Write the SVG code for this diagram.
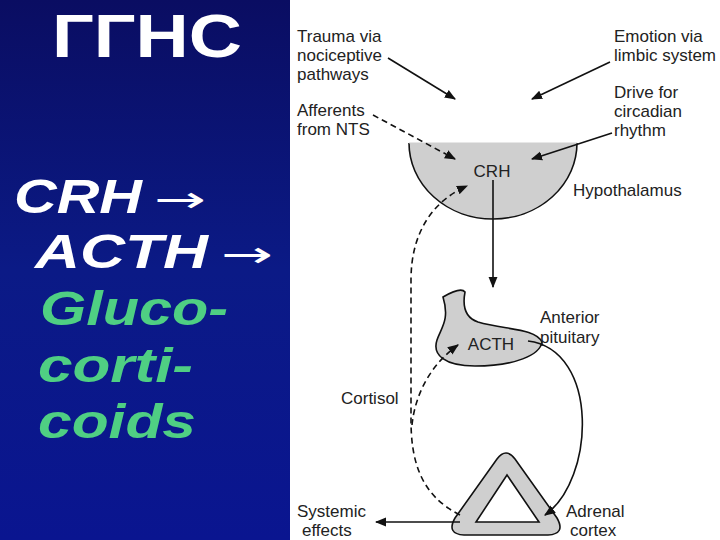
<svg xmlns="http://www.w3.org/2000/svg" width="720" height="540" viewBox="0 0 720 540">
<defs>
<linearGradient id="bg" x1="0" y1="0" x2="0" y2="1"><stop offset="0" stop-color="#0a0d62"/><stop offset="0.5" stop-color="#0b1a86"/><stop offset="1" stop-color="#0a1590"/></linearGradient>
<marker id="ah" viewBox="0 0 10 10" refX="9" refY="5" markerWidth="7" markerHeight="7" orient="auto-start-reverse"><path d="M0,1 L10,5 L0,9 Z" fill="#111"/></marker>
<style>
.t{font-family:"Liberation Sans",Arial,sans-serif;font-size:17px;fill:#222}
.big{font-family:"Liberation Sans",Arial,sans-serif;font-weight:bold;font-style:italic;font-size:48px}
.arr{font-family:"DejaVu Sans",sans-serif;font-size:36px;fill:#fff}
.ln{stroke:#111;stroke-width:1.6;fill:none}
.d{stroke-dasharray:6 4}
.g{fill:#cfcfcf;stroke:#111;stroke-width:1.6}
</style>
</defs>
<rect width="720" height="540" fill="url(#bg)"/>
<rect x="290" y="0" width="430" height="540" fill="#fff"/>
<g id="left-text">
<text x="52" y="57" font-family="Liberation Sans,Arial,sans-serif" font-weight="bold" font-size="62" fill="#fff" textLength="190" lengthAdjust="spacingAndGlyphs">ГГНС</text>
<text x="14" y="213" class="big" fill="#fff" textLength="128" lengthAdjust="spacingAndGlyphs">CRH</text>
<text x="154" y="212" class="arr" textLength="52" lengthAdjust="spacingAndGlyphs">→</text>
<text x="35" y="268" class="big" fill="#fff" textLength="173" lengthAdjust="spacingAndGlyphs">ACTH</text>
<text x="221" y="267" class="arr" textLength="52" lengthAdjust="spacingAndGlyphs">→</text>
<text x="40" y="325" class="big" fill="#4fcf83" textLength="188" lengthAdjust="spacingAndGlyphs">Gluco-</text>
<text x="38" y="382" class="big" fill="#4fcf83" textLength="155" lengthAdjust="spacingAndGlyphs">corti-</text>
<text x="38" y="438" class="big" fill="#4fcf83" textLength="158" lengthAdjust="spacingAndGlyphs">coids</text>
</g>
<g id="hypothalamus">
<path d="M409,143 A84,76 0 0 0 577,143" class="g"/>
<path d="M409,143 L577,143" stroke="#cfcfcf" stroke-width="1" fill="none"/>
<text x="492" y="177" class="t" text-anchor="middle" font-size="15">CRH</text>
<text x="573" y="196" class="t">Hypothalamus</text>
</g>
<g id="pituitary">
<path d="M443,297 C455,290 462,288 465,292 C462,308 466,318 478,322 C505,330 535,328 542,342 C540,355 515,366 475,366 C445,366 432,355 437,340 C441,328 450,320 443,297 Z" class="g"/>
<text x="491" y="350" class="t" text-anchor="middle">ACTH</text>
<text x="540" y="323" class="t">Anterior</text>
<text x="540" y="343" class="t">pituitary</text>
</g>
<g id="adrenal">
<path fill-rule="evenodd" class="g" d="M497,459 Q506,447 515,459 L557,518 Q566,534 548,535 L464,535 Q446,534 455,518 Z M507,475 L476,522 L539,522 Z"/>
<text x="566" y="517" class="t">Adrenal</text>
<text x="570" y="536" class="t">cortex</text>
</g>
<g id="labels">
<text x="297" y="42" class="t">Trauma via</text>
<text x="297" y="61" class="t">nociceptive</text>
<text x="297" y="80" class="t">pathways</text>
<text x="297" y="116" class="t">Afferents</text>
<text x="297" y="135" class="t">from NTS</text>
<text x="614" y="42" class="t">Emotion via</text>
<text x="614" y="61" class="t">limbic system</text>
<text x="614" y="98" class="t">Drive for</text>
<text x="614" y="117" class="t">circadian</text>
<text x="614" y="136" class="t">rhythm</text>
<text x="341" y="404" class="t">Cortisol</text>
<text x="297" y="517" class="t">Systemic</text>
<text x="302" y="536" class="t">effects</text>
</g>
<g id="connectors">
<path d="M388,58 L455,99" class="ln" marker-end="url(#ah)"/>
<path d="M610,62 L532,99" class="ln" marker-end="url(#ah)"/>
<path d="M373,115 L455,159" class="ln d" marker-end="url(#ah)"/>
<path d="M612,133 L532,159" class="ln" marker-end="url(#ah)"/>
<path d="M493,180 L493,287" class="ln" marker-end="url(#ah)"/>
<path d="M528,341 C600,350 595,480 545,515" class="ln" marker-end="url(#ah)"/>
<path d="M460,515 C420,495 411,460 411,420 L411,280 C411,230 435,200 467,186" class="ln d" marker-end="url(#ah)"/>
<path d="M412,425 C415,395 430,365 458,345" class="ln d" marker-end="url(#ah)"/>
<path d="M460,522 L376,522" class="ln" marker-end="url(#ah)"/>
</g>
</svg>
